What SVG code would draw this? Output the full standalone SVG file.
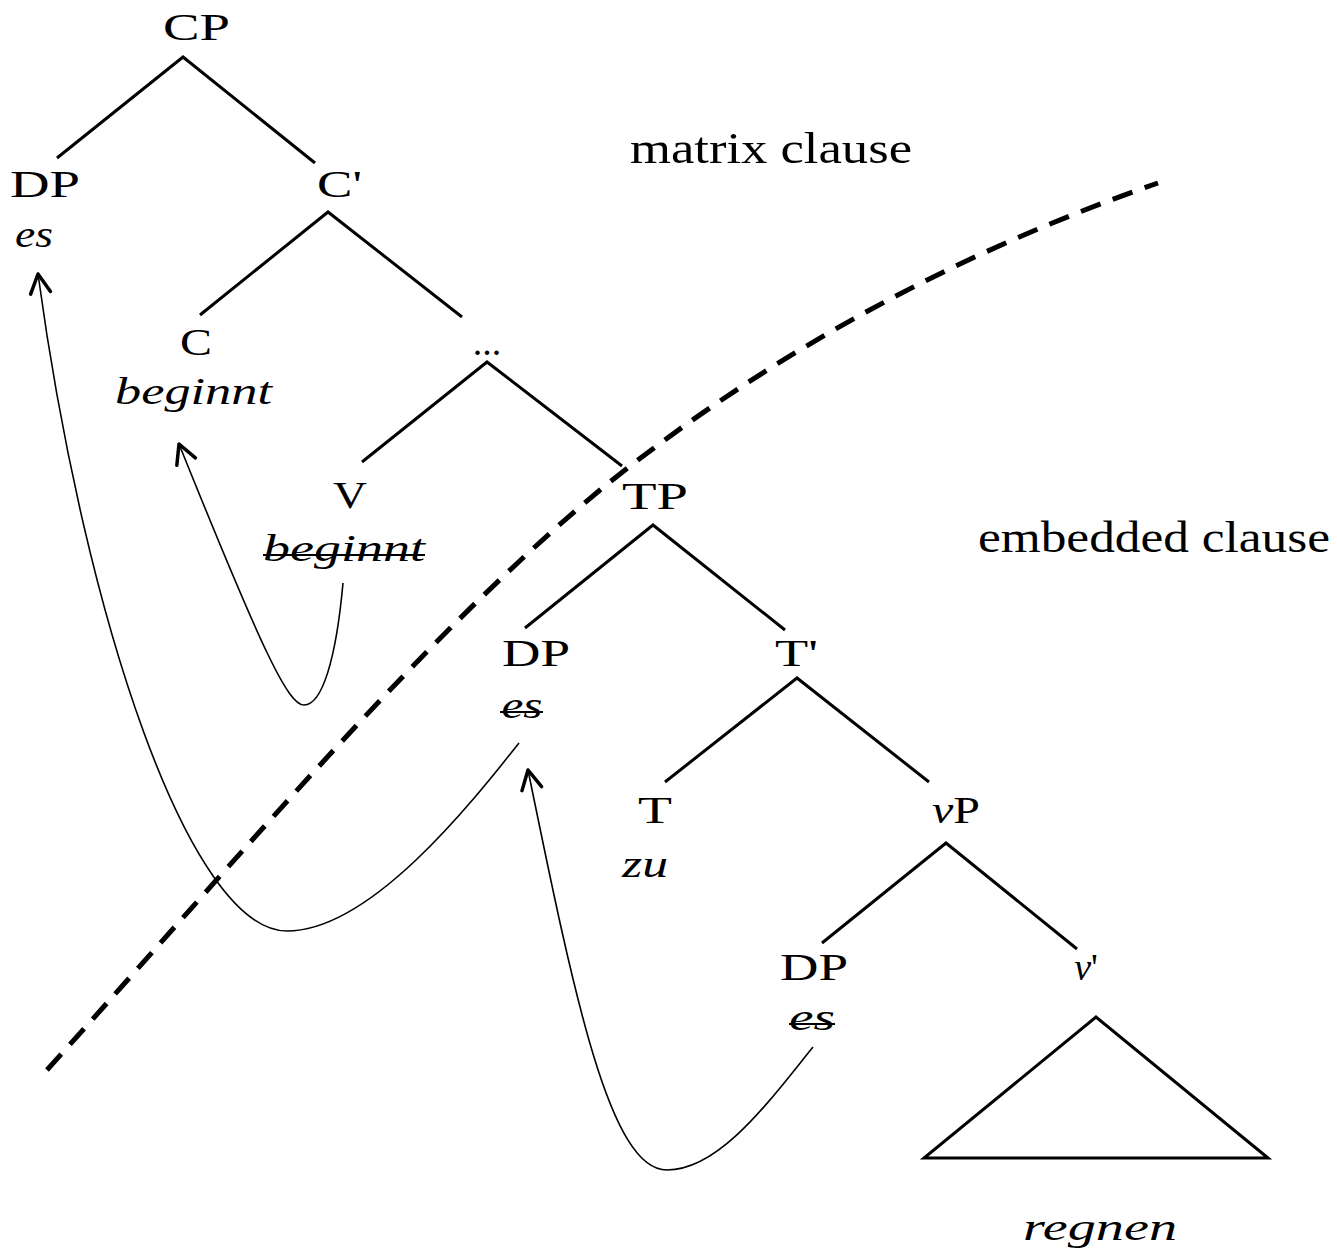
<svg xmlns="http://www.w3.org/2000/svg" width="1337" height="1253" viewBox="0 0 1337 1253">
<style>
.lbl{font-family:"Liberation Serif",serif;font-size:38px;text-anchor:middle;fill:#000}
.it{font-style:italic}
.clause{font-family:"Liberation Serif",serif;font-size:44px;fill:#000}
.edge{stroke:#000;stroke-width:3;fill:none}
.move{stroke:#000;stroke-width:1.6;fill:none;marker-end:url(#arr)}
.strike{stroke:#000;stroke-width:2}
.bound{stroke:#000;stroke-width:5;stroke-dasharray:21 13;fill:none}
</style>
<defs>
<marker id="arr" markerUnits="userSpaceOnUse" viewBox="-26 -14 30 28" refX="0" refY="0" markerWidth="30" markerHeight="28" orient="auto">
<path d="M -19,-10 L 0,0 L -19,10" fill="none" stroke="#000" stroke-width="3.5" stroke-linecap="round" stroke-linejoin="round"/>
</marker>
</defs>
<rect width="1337" height="1253" fill="#fff"/>

<g id="connectors">
<path class="edge" d="M57,158 L183,57 L315,163"/>
<path class="edge" d="M200,315 L328,212 L462,317"/>
<path class="edge" d="M362,462 L487,362 L622,466"/>
<path class="edge" d="M525,628 L653,525 L785,630"/>
<path class="edge" d="M665,782 L797,678 L929,782"/>
<path class="edge" d="M822,943 L946,843 L1077,949"/>
<path class="move" d="M343,583 C336,660 322,705 304,705 C288,705 262,650 179,444"/>
<path class="move" d="M519,743 C470,805 370,931 287,931 C190,931 85,620 38,274"/>
<path class="move" d="M813,1047 C770,1100 720,1170 667,1170 C610,1170 575,1000 528,770"/>
</g>

<g id="boundary">
<path class="bound" d="M47,1070 C250,845 420,640 600,490 C760,360 950,255 1158,183"/>
</g>

<g id="node-CP"><text class="lbl" x="196.5" y="40" textLength="67" lengthAdjust="spacingAndGlyphs">CP</text></g>
<g id="node-DP1">
<text class="lbl" x="45" y="197" textLength="70" lengthAdjust="spacingAndGlyphs">DP</text>
<text class="lbl it" x="34" y="247" textLength="38" lengthAdjust="spacingAndGlyphs">es</text>
</g>
<g id="node-Cbar"><text class="lbl" x="339.5" y="197" textLength="45" lengthAdjust="spacingAndGlyphs">C'</text></g>
<g id="node-C">
<text class="lbl" x="196" y="355" textLength="32" lengthAdjust="spacingAndGlyphs">C</text>
<text class="lbl it" x="193.5" y="404" textLength="157" lengthAdjust="spacingAndGlyphs">beginnt</text>
</g>
<g id="node-dots"><text class="lbl" x="487" y="355">...</text></g>
<g id="node-V">
<text class="lbl" x="350" y="508" textLength="34" lengthAdjust="spacingAndGlyphs">V</text>
<text class="lbl it" x="344" y="561" textLength="162" lengthAdjust="spacingAndGlyphs">beginnt</text>
<line class="strike" x1="263" y1="555" x2="425" y2="555"/>
</g>
<g id="node-TP"><text class="lbl" x="655" y="509" textLength="66" lengthAdjust="spacingAndGlyphs">TP</text></g>
<g id="node-DP2">
<text class="lbl" x="536" y="666" textLength="68" lengthAdjust="spacingAndGlyphs">DP</text>
<text class="lbl it" x="522" y="718" textLength="41" lengthAdjust="spacingAndGlyphs">es</text>
<line class="strike" x1="500" y1="712" x2="543" y2="712"/>
</g>
<g id="node-Tbar"><text class="lbl" x="796.5" y="666" textLength="43" lengthAdjust="spacingAndGlyphs">T'</text></g>
<g id="node-T">
<text class="lbl" x="655" y="823" textLength="34" lengthAdjust="spacingAndGlyphs">T</text>
<text class="lbl it" x="645" y="877" textLength="46" lengthAdjust="spacingAndGlyphs">zu</text>
</g>
<g id="node-vP"><text class="lbl" x="956" y="823" textLength="48" lengthAdjust="spacingAndGlyphs"><tspan class="it">v</tspan>P</text></g>
<g id="node-DP3">
<text class="lbl" x="814" y="980" textLength="68" lengthAdjust="spacingAndGlyphs">DP</text>
<text class="lbl it" x="812" y="1030" textLength="46" lengthAdjust="spacingAndGlyphs">es</text>
<line class="strike" x1="789" y1="1024" x2="835" y2="1024"/>
</g>
<g id="node-vbar"><text class="lbl" x="1086" y="980"><tspan class="it">v</tspan>'</text></g>
<g id="node-triangle">
<path class="edge" d="M1096,1017 L924,1158 L1268,1158 Z" stroke-linejoin="miter"/>
<text class="lbl it" x="1100" y="1240" textLength="154" lengthAdjust="spacingAndGlyphs">regnen</text>
</g>
<g id="label-matrix"><text class="clause" x="630" y="163" textLength="282" lengthAdjust="spacingAndGlyphs">matrix clause</text></g>
<g id="label-embedded"><text class="clause" x="978" y="552" textLength="352" lengthAdjust="spacingAndGlyphs">embedded clause</text></g>
</svg>
